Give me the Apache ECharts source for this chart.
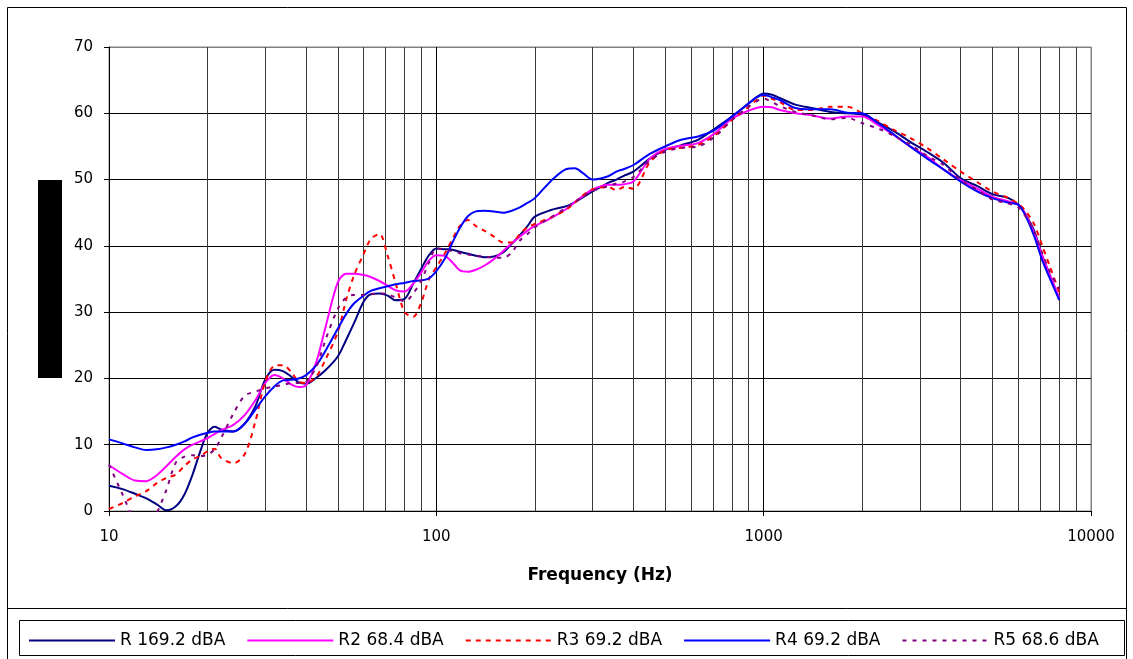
<!DOCTYPE html>
<html><head><meta charset="utf-8">
<script src="https://cdn.jsdelivr.net/npm/echarts@6/dist/echarts.min.js"></script>
<style>html,body{margin:0;padding:0;background:#fff}#c{width:1133px;height:659px}</style>
</head><body><div id="c"></div>
<script>
const freqs = [10,11,12,13,14,15,16,17,18,19,20,21,22,24,26,28,30,32,34,36,38,40,43,46,50,53,56,60,63,67,71,75,80,85,90,95,100,106,112,118,125,132,140,150,160,170,180,190,200,224,250,265,280,300,335,355,375,400,450,500,560,630,710,800,900,950,1000,1060,1120,1250,1400,1600,1800,2000,2240,2500,2800,3150,3550,4000,4500,5000,5600,6000,6300,6700,7100,7500,8000];

const r1 = [3.8,3.3,2.6,1.9,1.0,0.1,0.7,2.5,5.5,9.0,11.8,12.7,12.3,12.0,13.2,15.8,19.8,21.3,21.1,20.3,19.4,19.2,20.1,21.3,23.3,25.8,28.3,31.6,32.7,32.8,32.5,31.8,32.0,34.3,36.6,38.6,39.6,39.5,39.4,39.1,38.8,38.5,38.3,38.4,39.0,40.3,41.6,43.0,44.4,45.4,46.0,46.6,47.3,48.2,49.5,50.0,50.6,51.2,53.2,54.5,55.2,56.0,57.7,59.5,61.5,62.4,63.0,62.8,62.3,61.3,60.8,60.2,60.0,59.8,58.6,57.3,55.7,54.2,52.5,50.2,49.0,47.8,47.2,46.2,44.8,42.3,38.5,35.5,32.0];

const r2 = [6.9,5.6,4.6,4.5,5.4,6.8,8.2,9.3,10.0,10.5,11.0,11.6,12.2,13.0,14.5,16.7,19.3,20.5,20.0,19.1,18.7,19.0,22.5,28.0,34.5,35.8,35.8,35.6,35.3,34.7,34.0,33.3,33.1,34.3,36.0,37.8,38.6,38.5,37.5,36.3,36.1,36.4,37.0,38.0,39.2,40.4,41.4,42.3,43.0,44.2,45.6,46.6,47.5,48.5,49.2,49.2,49.3,49.7,53.2,54.6,55.1,55.5,57.0,59.2,60.4,60.8,61.0,60.9,60.5,60.0,59.7,59.2,59.5,59.5,58.2,56.7,55.0,53.5,51.5,49.9,48.6,47.4,46.7,46.2,44.8,42.0,38.5,35.5,32.2];

const r3 = [0.3,1.2,2.2,3.0,4.2,5.0,5.5,6.8,7.8,8.3,9.0,9.4,8.0,7.2,8.6,13.5,19.5,21.9,22.0,21.0,19.5,19.3,20.3,23.0,27.0,31.8,35.5,38.8,41.0,41.8,38.5,34.5,30.0,29.3,31.5,35.0,36.8,38.8,41.0,43.0,43.9,43.0,42.3,41.4,40.5,40.5,41.8,42.8,43.3,44.3,45.5,46.5,47.6,48.5,48.9,48.4,48.9,48.6,52.7,54.4,54.8,55.2,56.7,59.0,61.0,62.0,62.7,62.2,61.7,60.5,60.5,61.0,61.0,60.0,58.8,57.5,56.3,54.8,53.0,51.2,49.6,48.2,47.2,46.3,45.3,43.3,40.0,36.8,33.0];

const r4 = [10.8,10.2,9.6,9.2,9.3,9.6,10.0,10.5,11.1,11.5,11.8,12.0,12.0,12.0,13.2,15.3,17.3,18.8,19.7,19.8,20.0,20.5,22.0,24.3,27.5,29.7,31.3,32.5,33.2,33.6,33.9,34.2,34.4,34.7,34.8,35.1,36.2,38.0,40.5,42.7,44.5,45.2,45.3,45.2,45.0,45.3,45.8,46.5,47.2,49.8,51.6,51.7,51.0,50.0,50.5,51.2,51.6,52.2,53.9,55.0,56.0,56.5,57.5,59.5,61.5,62.4,62.8,62.4,62.0,60.8,60.6,60.6,60.1,60.0,58.5,56.8,55.0,53.2,51.5,49.7,48.2,47.2,46.5,46.2,44.6,41.5,37.8,35.0,31.8];

const r5 = [7.0,2.5,-1.5,-3.0,-0.3,3.3,7.3,8.2,8.4,8.3,8.5,9.3,11.0,14.7,17.4,18.0,18.5,18.8,19.0,19.3,19.3,19.5,21.8,26.0,30.5,32.2,32.6,32.6,32.7,32.8,32.7,32.2,31.6,32.8,34.8,37.5,39.6,39.4,39.2,38.9,38.7,38.5,38.4,38.2,38.2,39.0,40.8,41.8,42.8,44.3,45.8,46.6,47.4,48.3,49.0,49.4,49.7,50.4,52.9,54.2,54.8,55.0,56.5,59.0,61.0,61.8,62.2,61.7,61.1,60.2,59.7,59.1,59.3,58.5,57.7,56.6,55.3,53.6,52.2,49.9,48.4,47.0,46.4,45.8,44.5,42.2,38.9,36.0,33.5];

const seriesNames = ['R 169.2 dBA','R2 68.4 dBA','R3 69.2 dBA','R4 69.2 dBA','R5 68.6 dBA'];
const minorFreqs = [20,30,40,50,60,70,80,90,200,300,400,500,600,700,800,900,2000,3000,4000,5000,6000,7000,8000,9000];
const xAxisTitle = 'Frequency (Hz)';

const values = [r1, r2, r3, r4, r5];
const colors = ['#000080','#FF00FF','#FF0000','#0000FF','#800080'];
const dashes = ['solid','solid',[5,5],'solid',[4,6]];

const series = values.map((vals, i) => {
  const s = {
    name: seriesNames[i],
    type: 'line',
    data: freqs.map((f, k) => [f, vals[k]]),
    symbol: 'none',
    smooth: 0.3,
    clip: true,
    lineStyle: {color: colors[i], width: 2, type: dashes[i]},
    itemStyle: {color: colors[i]},
    z: 3 + i
  };
  if (i === 0) {
    s.markLine = {
      silent: true, symbol: 'none', animation: false,
      label: {show: false},
      lineStyle: {color: '#3a3a3a', width: 1, type: 'solid'},
      data: minorFreqs.map(f => ({xAxis: f})),
      z: 1
    };
  }
  return s;
});

const chart = echarts.init(document.getElementById('c'), null, {renderer: 'canvas'});
chart.setOption({
  animation: false,
  backgroundColor: '#fff',
  textStyle: {fontFamily: 'DejaVu Sans'},
  grid: {left: 109, right: 42, top: 47, bottom: 148, show: true, borderColor: '#808080', borderWidth: 1, backgroundColor: 'transparent'},
  xAxis: {
    type: 'log', logBase: 10, min: 10, max: 10000,
    name: xAxisTitle, nameLocation: 'middle', nameGap: 56,
    nameTextStyle: {fontFamily: 'DejaVu Sans', fontSize: 17, fontWeight: 'bold', color: '#000'},
    axisLine: {show: true, lineStyle: {color: '#000', width: 1}},
    axisTick: {show: true, length: 5, lineStyle: {color: '#000'}},
    axisLabel: {color: '#000', fontSize: 15, fontFamily: 'DejaVu Sans', margin: 19, formatter: v => String(Math.round(v))},
    splitLine: {show: true, lineStyle: {color: ['#000','#000','#000','#808080'], width: 1}},
    minorTick: {show: false}
  },
  yAxis: {
    type: 'value', min: 0, max: 70, interval: 10,
    axisLine: {show: true, lineStyle: {color: '#000', width: 1}},
    axisTick: {show: true, length: 5, lineStyle: {color: '#000'}},
    axisLabel: {color: '#000', fontSize: 15, fontFamily: 'DejaVu Sans', margin: 16},
    splitLine: {show: true, lineStyle: {color: ['#000','#000','#000','#000','#000','#000','#000','#808080'], width: 1}}
  },
  legend: {
    data: seriesNames,
    left: 23, top: 627, orient: 'horizontal',
    itemWidth: 86, itemHeight: 14, itemGap: 21,
    itemStyle: {opacity: 0},
    textStyle: {fontFamily: 'DejaVu Sans', fontSize: 17, color: '#000'},
    selectedMode: false
  },
  graphic: [
    {type: 'polyline', silent: true, shape: {points: [[7.5,659],[7.5,7.5],[1126.5,7.5],[1126.5,659]]}, style: {stroke: '#000', lineWidth: 1, fill: null}},
    {type: 'line', silent: true, shape: {x1: 7.5, y1: 608.5, x2: 1126.5, y2: 608.5}, style: {stroke: '#000', lineWidth: 1}},
    {type: 'rect', silent: true, shape: {x: 19.5, y: 620.5, width: 1105, height: 35}, style: {stroke: '#000', lineWidth: 1, fill: null}},
    {type: 'rect', silent: true, shape: {x: 38, y: 180, width: 24, height: 198}, style: {fill: '#000'}}
  ],
  series: series
});
</script>
</body></html>
